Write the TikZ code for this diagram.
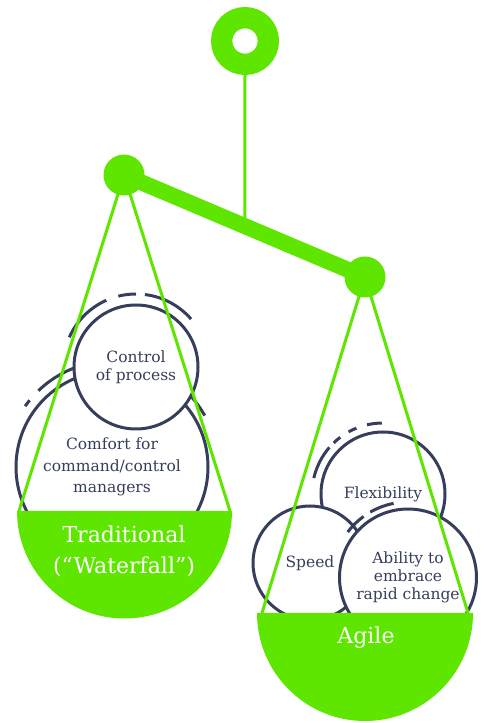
\documentclass[tikz,border=0pt]{standalone}
\usepackage{fontspec}
\setmainfont{DejaVu Serif}
\usetikzlibrary{calc}
\definecolor{scalegreen}{RGB}{94,230,0}
\definecolor{ink}{RGB}{54,62,92}
\tikzstyle{bubble} = [circle, draw=ink, line width=3pt, fill=white, text=ink, align=center, inner sep=0pt, font=\fontsize{15.5}{18}\selectfont]
\tikzstyle{halo} = [draw=ink, line width=3pt]
\tikzstyle{cord} = [draw=scalegreen, line width=3pt]
\tikzstyle{pan} = [fill=scalegreen]
\tikzstyle{knob} = [circle, fill=scalegreen, minimum size=41pt, inner sep=0pt]
\tikzstyle{pantext} = [text=white, align=center, font=\fontsize{22}{31}\selectfont]

\begin{document}
\begin{tikzpicture}[x=1pt, y=1pt]
    \useasboundingbox (0,0) rectangle (484,723);
    \coordinate (pivotL) at (124,548);
    \coordinate (pivotR) at (365,446);

    % right pan: three overlapping bubbles
    \node (flex) [bubble, minimum size=124pt] at (383,229) {Flexibility};
    \draw[halo] ($(flex)+(167:71)$) arc[start angle=167, end angle=139, radius=71];
    \draw[halo] ($(flex)+(134:71)$) arc[start angle=134, end angle=127, radius=71];
    \draw[halo] ($(flex)+(119:71)$) arc[start angle=119, end angle=112, radius=71];
    \draw[halo] ($(flex)+(103:71)$) arc[start angle=103, end angle=91, radius=71];
    \node (speed) [bubble, minimum size=114pt] at (310,160) {Speed};
    \coordinate (abc) at (408,145.5);
    \draw[halo] ($(abc)+(143:75.5)$) arc[start angle=143, end angle=126, radius=75.5];
    \draw[halo] ($(abc)+(120:75.5)$) arc[start angle=120, end angle=101, radius=75.5];
    \node (ability) [bubble, minimum size=137pt] at (abc) {Ability to\\embrace\\rapid change};

    % left pan: two bubbles
    \node (comfort) [bubble, minimum size=192pt, font=\fontsize{15.5}{21.5}\selectfont] at (112,256) {Comfort for\\command/control\\managers};
    \draw[halo] ($(comfort)+(29:106)$) arc[start angle=29, end angle=134, radius=106];
    \draw[halo] ($(comfort)+(141:106)$) arc[start angle=141, end angle=145, radius=106];
    \node (control) [bubble, minimum size=124pt] at (136,356) {Control\\of process};
    \draw[halo] ($(control)+(156:73)$) arc[start angle=156, end angle=114, radius=73];
    \draw[halo] ($(control)+(104:73)$) arc[start angle=104, end angle=90, radius=73];
    \draw[halo] ($(control)+(83:73)$) arc[start angle=83, end angle=41, radius=73];

    % pans
    \fill[pan] (17,212) arc[start angle=180, end angle=360, radius=107.5] -- cycle;
    \fill[pan] (257,110) arc[start angle=180, end angle=360, radius=108] -- cycle;
    \node (trad) [pantext] at (124,172) {Traditional\\(“Waterfall”)};
    \node (agile) [pantext] at (366,85) {Agile};

    % cords
    \coordinate (rimLa) at (19,212);
    \coordinate (rimLb) at (230,212);
    \coordinate (rimRa) at (262,110);
    \coordinate (rimRb) at (468,110);
    \draw[cord] (rimLa) -- (pivotL) -- (rimLb);
    \draw[cord] (rimRa) -- (pivotR) -- (rimRb);

    % hanger and beam
    \coordinate (hook) at ($(pivotL)!0.502!(pivotR)$);
    \node (ring) [circle, draw=scalegreen, line width=21.3pt, minimum size=46.7pt, inner sep=0pt] at (245,682) {};
    \draw[cord] (ring) -- (hook);
    \draw[scalegreen, line width=16pt] (pivotL) -- (pivotR);
    \node (knobL) [knob] at (pivotL) {};
    \node (knobR) [knob] at (pivotR) {};
\end{tikzpicture}
\end{document}
